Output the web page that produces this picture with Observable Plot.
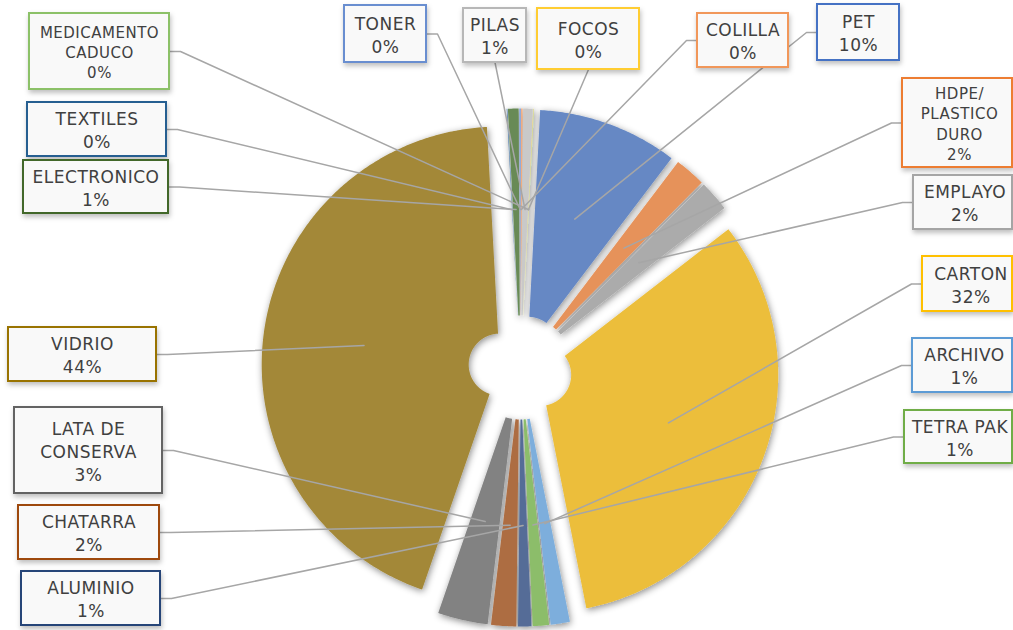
<!DOCTYPE html>
<html>
<head>
<meta charset="utf-8">
<script src="https://cdn.jsdelivr.net/npm/d3@7"></script>
<script src="https://cdn.jsdelivr.net/npm/@observablehq/plot@0.6"></script>
<style>
  html, body { margin: 0; padding: 0; background: #ffffff; }
  #chart { width: 1013px; height: 630px; overflow: hidden; }
</style>
</head>
<body>
<div id="chart"></div>
<script>
// ---------- DATA ----------
const categories = ["PET", "HDPE/\nPLASTICO\nDURO", "EMPLAYO", "CARTON", "ARCHIVO", "TETRA PAK",
  "ALUMINIO", "CHATARRA", "LATA DE\nCONSERVA", "VIDRIO", "TEXTILES", "ELECTRONICO",
  "TONER", "COLILLA", "PILAS", "FOCOS", "MEDICAMENTO\nCADUCO"];
const values = [9.5, 2.1, 2.1, 32.4, 1.3, 1.1, 0.9, 1.7, 3.4, 43.9, 0.05, 0.72, 0.12, 0.1, 0.65, 0.03, 0.02];
const percentLabels = ["10%", "2%", "2%", "32%", "1%", "1%", "1%", "2%", "3%", "44%", "0%", "1%", "0%", "0%", "1%", "0%", "0%"];

// ---------- STYLE / LAYOUT ----------
const sliceColors = ["#6688C4", "#E6925A", "#ABABAB", "#ECBE3A", "#7DAEDC", "#8CBD6A", "#546C97",
  "#AD6D42", "#828282", "#A38839", "#4F7BA8", "#678A56", "#8FA9DA", "#F2AC7E", "#C9C9C9", "#FFD966", "#A9D18E"];
const borderColors = ["#4472C4", "#ED7D31", "#A5A5A5", "#FFC000", "#5B9BD5", "#70AD47", "#264478",
  "#9E480E", "#636363", "#997300", "#255E91", "#43682B", "#698ED0", "#F1975A", "#B7B7B7", "#FFCD33", "#8CC168"];
// label boxes: [x1, y1, x2, y2, side where leader starts, font size]
const boxLayout = [
  [817, 4, 899, 60, "left", 17],      // PET
  [902, 78, 1016, 167, "left", 15],   // HDPE
  [913, 175, 1016, 229, "left", 17],  // EMPLAYO
  [922, 256, 1019, 311, "left", 17],  // CARTON
  [912, 338, 1016, 392, "left", 17],  // ARCHIVO
  [904, 410, 1015, 463, "left", 17],  // TETRA PAK
  [21, 571, 160, 625, "right", 17],   // ALUMINIO
  [18, 505, 159, 559, "right", 17],   // CHATARRA
  [14, 407, 162, 493, "right", 17],   // LATA
  [8, 327, 156, 381, "right", 17],    // VIDRIO
  [27, 102, 166, 156, "right", 17],   // TEXTILES
  [23, 160, 168, 213, "right", 17],   // ELECTRONICO
  [344, 5, 426, 62, "right", 17],     // TONER
  [697, 13, 788, 67, "left", 17],     // COLILLA
  [463, 8, 526, 62, "bottom", 17],    // PILAS
  [537, 8, 639, 69, "bottom", 17],    // FOCOS
  [29, 13, 169, 89, "right", 15]      // MEDICAMENTO
];
const W = 1013, H = 630;
const pie = {cx: 520, cy: 367, r: 238, r0: 31, explode: 21, anchor: 158, startDeg: 3};

// ---------- GEOMETRY ----------
const rad = Math.PI / 180;
const arcs = d3.pie().sort(null)
  .startAngle(pie.startDeg * rad).endAngle((pie.startDeg + 360) * rad)(values);

const slicePts = [];
const leaderPts = [];
const boxes = [];
arcs.forEach((a, i) => {
  const mid = (a.startAngle + a.endAngle) / 2;
  const ox = pie.cx + pie.explode * Math.sin(mid);
  const oy = pie.cy - pie.explode * Math.cos(mid);
  const n = Math.max(2, Math.ceil((a.endAngle - a.startAngle) / (0.5 * rad)));
  for (let k = 0; k <= n; k++) {
    const t = a.startAngle + (a.endAngle - a.startAngle) * k / n;
    slicePts.push({i, x: ox + pie.r * Math.sin(t), y: oy - pie.r * Math.cos(t), c: sliceColors[i]});
  }
  for (let k = n; k >= 0; k--) {
    const t = a.startAngle + (a.endAngle - a.startAngle) * k / n;
    slicePts.push({i, x: ox + pie.r0 * Math.sin(t), y: oy - pie.r0 * Math.cos(t), c: sliceColors[i]});
  }
  const [x1, y1, x2, y2, side, fs] = boxLayout[i];
  const ym = (y1 + y2) / 2, xm = (x1 + x2) / 2;
  const ax = pie.cx + pie.anchor * Math.sin(mid);
  const ay = pie.cy - pie.anchor * Math.cos(mid);
  if (side === "left") {
    leaderPts.push({i, x: x1, y: ym}, {i, x: x1 - 11, y: ym});
  } else if (side === "right") {
    leaderPts.push({i, x: x2, y: ym}, {i, x: x2 + 11, y: ym});
  } else {
    leaderPts.push({i, x: xm, y: y2});
  }
  leaderPts.push({i, x: ax, y: ay});
  boxes.push({i, x1, y1, x2: Math.min(x2, W - 1), y2, xm, ym, fs,
    label: categories[i] + "\n" + percentLabels[i], stroke: borderColors[i]});
});

// ---------- PLOT ----------
const svg = Plot.plot({
  width: W, height: H,
  margin: 0,
  x: {domain: [0, W], range: [0, W], axis: null},
  y: {domain: [0, H], range: [0, H], axis: null},
  color: {type: "identity"},
  marks: [
    Plot.line(slicePts, {x: "x", y: "y", z: "i", fill: "c", stroke: "none", curve: "linear-closed"}),
    Plot.line(leaderPts, {x: "x", y: "y", z: "i", stroke: "#A6A6A6", strokeWidth: 1.5}),
    Plot.rect(boxes, {x1: "x1", x2: "x2", y1: "y1", y2: "y2", fill: "#F9F9F9", stroke: "stroke", strokeWidth: 2}),
    Plot.text(boxes, {x: "xm", y: "ym", text: "label", fontSize: "fs", lineHeight: 1.36,
      fill: "#404040", fontFamily: "DejaVu Sans", textAnchor: "middle"})
  ]
});

// soft shadows
const ns = "http://www.w3.org/2000/svg";
const defs = document.createElementNS(ns, "defs");
defs.innerHTML = `
  <filter id="sliceShadow" x="-20%" y="-20%" width="140%" height="140%">
    <feDropShadow dx="1" dy="2" stdDeviation="3.5" flood-color="#000" flood-opacity="0.45"/>
  </filter>
  <filter id="boxShadow" x="-20%" y="-20%" width="140%" height="160%">
    <feDropShadow dx="1" dy="3" stdDeviation="2.5" flood-color="#000" flood-opacity="0.25"/>
  </filter>`;
svg.insertBefore(defs, svg.firstChild);
const groups = svg.querySelectorAll(":scope > g");
groups[0].setAttribute("filter", "url(#sliceShadow)");
groups[2].setAttribute("filter", "url(#boxShadow)");
groups[3].setAttribute("letter-spacing", "0.5");

document.getElementById("chart").appendChild(svg);
</script>
</body>
</html>
